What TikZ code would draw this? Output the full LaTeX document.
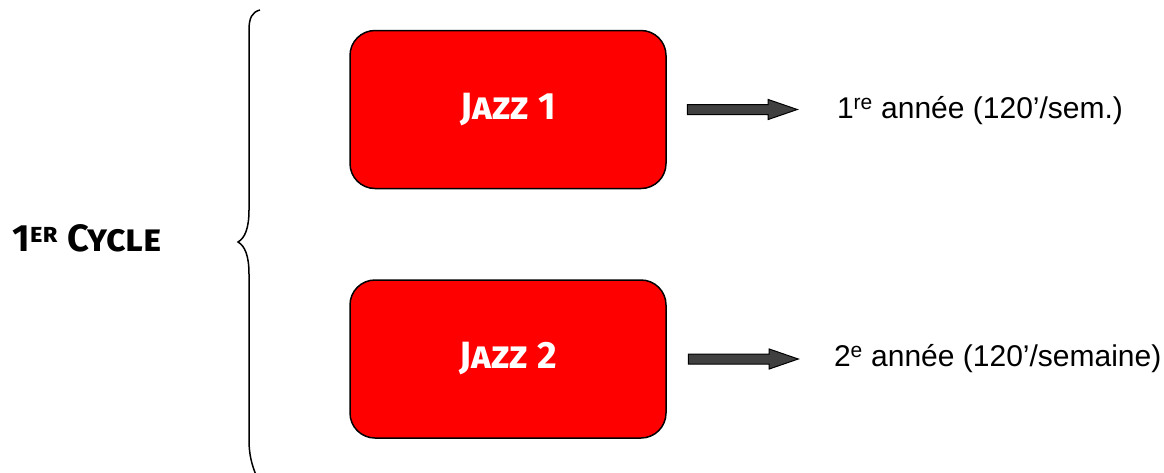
\documentclass[tikz,border=0pt]{standalone}
\usepackage{fontspec}
\usepackage{tikz}
\usetikzlibrary{positioning,shapes.arrows}
\setmainfont{Liberation Sans}
\newfontfamily\brushfont{Fira Sans}
\definecolor{arrowgray}{HTML}{404040}

\begin{document}
\begin{tikzpicture}[x=1pt,y=-1pt,
  jazzbox/.style={draw=black, line width=1.5pt, fill=red, rounded corners=25pt,
    minimum width=316pt, minimum height=158pt, text=white,
    font=\brushfont\bfseries\scshape\fontsize{38}{44}\selectfont},
  grosfleche/.style={single arrow, draw=black, line width=1pt, fill=arrowgray,
    minimum height=110pt, single arrow head extend=5pt,
    single arrow tip angle=38, inner xsep=0pt, inner ysep=4.5pt},
  annee/.style={font=\fontsize{30}{34}\selectfont, inner sep=0pt}]
\useasboundingbox (0,0) rectangle (1164,472);
\node[font=\brushfont\bfseries\scshape\fontsize{38}{44}\selectfont] (cycle) at (87,238) {1\textsuperscript{er} Cycle};
\draw[line width=1.5pt] (260,10) .. controls (252,12) and (249,18) .. (249,30) -- (249,210)
  .. controls (249,228) and (245,238) .. (238,242)
  .. controls (245,246) and (249,256) .. (249,274) -- (249,440)
  .. controls (249,455) and (252,465) .. (256,475);
\node[jazzbox] (jazz1) at (508,109.5) {Jazz 1};
\node[jazzbox, below=90pt of jazz1] (jazz2) {Jazz 2};
\node[grosfleche, right=20pt of jazz1] (fleche1) {};
\node[grosfleche, right=21pt of jazz2] (fleche2) {};
\node[annee, right=38pt of fleche1, yshift=-1pt] (an1) {1\textsuperscript{re} année (120’/sem.)};
\node[annee, right=34pt of fleche2] (an2) {2\textsuperscript{e} année (120’/semaine)};
\end{tikzpicture}
\end{document}
